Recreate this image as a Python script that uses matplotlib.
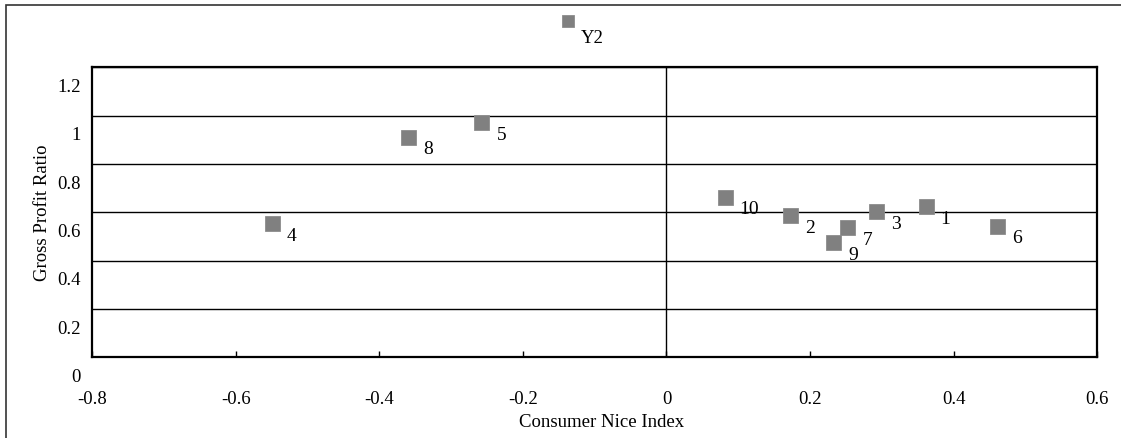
import matplotlib
matplotlib.use("Agg")
import matplotlib.pyplot as plt
import matplotlib.transforms as mtransforms
from matplotlib.patches import Rectangle

plt.rcParams['font.family'] = ['Liberation Serif', 'DejaVu Serif']

# data
point_names = ["1", "2", "3", "4", "5", "6", "7", "8", "9", "10"]
nice_index = [0.361, 0.172, 0.292, -0.550, -0.258, 0.461, 0.252, -0.360, 0.232, 0.081]
profit_ratio = [0.625, 0.588, 0.605, 0.556, 0.974, 0.545, 0.538, 0.913, 0.476, 0.666]

x_ticks = [-0.8, -0.6, -0.4, -0.2, 0, 0.2, 0.4, 0.6]
x_tick_labels = ["-0.8", "-0.6", "-0.4", "-0.2", "0", "0.2", "0.4", "0.6"]
y_ticks = [0, 0.2, 0.4, 0.6, 0.8, 1.0, 1.2]
y_tick_labels = ["0", "0.2", "0.4", "0.6", "0.8", "1", "1.2"]

fs = 13.5

fig = plt.figure(figsize=(11.21, 4.38), dpi=100)
ax = fig.add_axes([0.0825, 0.1838, 0.8961, 0.6621])

marker_col = '#808080'
ax.plot(nice_index, profit_ratio, linestyle='none', marker='s', markersize=10.8,
        color=marker_col, markeredgecolor='#8c8c8c', markeredgewidth=0.6,
        label='Y2', zorder=3)

for name, xv, yv in zip(point_names, nice_index, profit_ratio):
    ax.annotate(name, (xv, yv), xytext=(10.8, -9.3), textcoords='offset points',
                ha='left', va='center', fontsize=14, color='black')

ax.set_xlim(-0.8, 0.6)
ax.set_ylim(0, 1.2)
ax.set_xticks(x_ticks)
ax.set_xticklabels(x_tick_labels, fontsize=fs)
ax.set_yticks(y_ticks)
ax.set_yticklabels(y_tick_labels, fontsize=fs)

ax.grid(True, axis='y', color='black', linewidth=1.0)
ax.axvline(0, color='black', linewidth=1.0, zorder=1)
ax.tick_params(axis='x', direction='in', length=4, width=1, pad=24)
ax.tick_params(axis='y', length=0, pad=8.3)

for sp in ax.spines.values():
    sp.set_linewidth(1.6)
    sp.set_color('black')

# Excel puts the y labels a bit below their gridlines
offset = mtransforms.ScaledTranslation(0, -18 / 100, fig.dpi_scale_trans)
for label in ax.yaxis.get_majorticklabels():
    label.set_transform(label.get_transform() + offset)

ax.set_xlabel("Consumer Nice Index", fontsize=fs)
ax.set_ylabel("Gross Profit Ratio", fontsize=fs)
ax.xaxis.set_label_coords(0.507, -0.195)
ax.yaxis.set_label_coords(-0.041, 0.5)

leg = fig.legend(loc='center left', bbox_to_anchor=(0.4993, 0.9475), frameon=False,
                 handlelength=0.9, handletextpad=0.2, borderpad=0, borderaxespad=0,
                 markerscale=0.75, fontsize=fs)
leg.get_texts()[0].set_y(-15)

# outer chart border (right and bottom sides fall outside the image)
fig.add_artist(Rectangle((6 / 1121, -0.5), 2.0, 1.5 - 5 / 438,
                         transform=fig.transFigure, fill=False,
                         edgecolor='#333333', linewidth=1.2))

fig.savefig("out.png", dpi=100)
